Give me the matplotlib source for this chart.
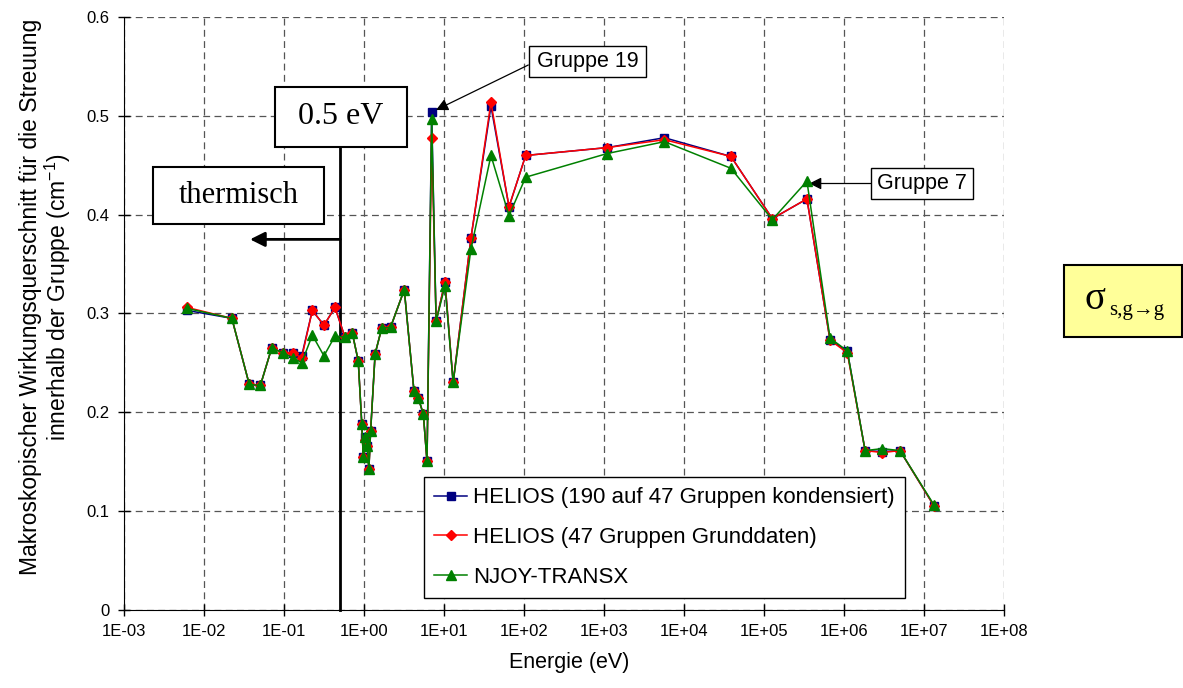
import numpy as np
import matplotlib
matplotlib.use('Agg')
import matplotlib.pyplot as plt
from matplotlib.patches import Rectangle
from matplotlib.ticker import FixedLocator, NullLocator, FuncFormatter

# -----------------------------
# Daten
# -----------------------------
energie = [0.00612, 0.0221, 0.0365, 0.0502, 0.0696, 0.0963, 0.128, 0.165, 0.224, 0.313,
           0.43, 0.573, 0.708, 0.84, 0.93, 0.97, 1.02, 1.09, 1.14, 1.2,
           1.365, 1.65, 2.13, 3.16, 4.18, 4.74, 5.47, 6.08, 6.95, 7.9,
           10.2, 12.9, 21.5, 38.3, 64.4, 104, 1090, 5640, 38300, 1.26e5,
           3.41e5, 6.63e5, 1.09e6, 1.82e6, 2.98e6, 4.97e6, 1.32e7]

helios_190 = [0.303, 0.295, 0.228, 0.227, 0.265, 0.260, 0.260, 0.257, 0.303, 0.288,
              0.306, 0.276, 0.280, 0.252, 0.188, 0.155, 0.175, 0.166, 0.142, 0.181,
              0.259, 0.285, 0.286, 0.324, 0.221, 0.214, 0.198, 0.150, 0.504, 0.292,
              0.332, 0.230, 0.376, 0.510, 0.408, 0.460, 0.468, 0.478, 0.459, 0.396,
              0.416, 0.273, 0.262, 0.161, 0.160, 0.161, 0.105]

helios_47 = [0.306, 0.295, 0.228, 0.227, 0.265, 0.260, 0.260, 0.255, 0.303, 0.288,
             0.306, 0.276, 0.280, 0.252, 0.188, 0.155, 0.172, 0.166, 0.142, 0.181,
             0.259, 0.285, 0.286, 0.324, 0.221, 0.214, 0.198, 0.150, 0.478, 0.292,
             0.332, 0.230, 0.376, 0.514, 0.408, 0.460, 0.468, 0.476, 0.459, 0.396,
             0.416, 0.273, 0.260, 0.161, 0.159, 0.161, 0.105]

njoy = [0.305, 0.295, 0.228, 0.227, 0.265, 0.260, 0.255, 0.250, 0.278, 0.257,
        0.277, 0.276, 0.280, 0.252, 0.188, 0.155, 0.175, 0.166, 0.142, 0.181,
        0.259, 0.285, 0.286, 0.324, 0.221, 0.214, 0.198, 0.150, 0.497, 0.292,
        0.328, 0.230, 0.365, 0.460, 0.399, 0.438, 0.462, 0.474, 0.447, 0.395,
        0.434, 0.275, 0.262, 0.161, 0.163, 0.161, 0.106]

namen = ['HELIOS (190 auf 47 Gruppen kondensiert)',
         'HELIOS (47 Gruppen Grunddaten)',
         'NJOY-TRANSX']

x_ticks = [10.0 ** e for e in range(-3, 9)]
y_ticks = [0, 0.1, 0.2, 0.3, 0.4, 0.5, 0.6]

plt.rcParams['font.family'] = ['Liberation Sans', 'DejaVu Sans']
plt.rcParams['mathtext.fontset'] = 'custom'
plt.rcParams['mathtext.rm'] = 'Liberation Sans'
plt.rcParams['mathtext.it'] = 'Liberation Sans:italic'

W, H = 1183, 688
fig = plt.figure(figsize=(W / 100, H / 100), dpi=100)


def fx(x):
    return x / W


def fy(y):
    return 1 - y / H


# Achsenbereich in Pixeln
x0, x1, y0, y1 = 124.3, 1004.3, 17.3, 609.5
ax = fig.add_axes([fx(x0), fy(y1), (x1 - x0) / W, (y1 - y0) / H])

ax.plot(energie, helios_190, color='#000080', lw=1.1, marker='s', ms=6,
        mfc='#000080', mec='#000080', label=namen[0], zorder=3)
ax.plot(energie, helios_47, color='#FF0000', lw=1.1, marker='D', ms=5.5,
        mfc='#FF0000', mec='#FF0000', label=namen[1], zorder=4)
ax.plot(energie, njoy, color='#008000', lw=1.1, marker='^', ms=7,
        mfc='#008000', mec='#008000', label=namen[2], zorder=5)

ax.set_xscale('log')
ax.set_xlim(1e-3, 1e8)
ax.set_ylim(0, 0.6)
ax.xaxis.set_major_locator(FixedLocator(x_ticks))
ax.xaxis.set_minor_locator(NullLocator())
ax.xaxis.set_major_formatter(FuncFormatter(lambda v, p: '1E%+03d' % int(round(np.log10(v)))))
ax.yaxis.set_major_locator(FixedLocator(y_ticks))
ax.yaxis.set_major_formatter(FuncFormatter(lambda v, p: '0' if v == 0 else '%.1f' % v))
ax.tick_params(direction='inout', length=9, width=1, labelsize=12, pad=6)

ax.grid(True, color='#555555', linestyle=(0, (5.5, 3.5)), linewidth=0.9)
ax.spines['top'].set_visible(False)
ax.spines['right'].set_visible(False)

ax.set_xlabel('Energie (eV)', fontsize=15.5)
ax.set_ylabel('Makroskopischer Wirkungsquerschnitt für die Streuung\n'
              'innerhalb der Gruppe (cm$^{-1}$)', fontsize=16.5, linespacing=1.05)
ax.xaxis.set_label_coords(0.505, -0.072)
ax.yaxis.set_label_coords(-0.058, 0.528)

leg = ax.legend(loc='upper left', bbox_to_anchor=(fx(424), fy(477.3)),
                bbox_transform=fig.transFigure, fontsize=16, frameon=True,
                fancybox=False, edgecolor='black', framealpha=1, borderaxespad=0,
                borderpad=0.45, handlelength=1.5, handletextpad=0.25,
                labelspacing=0.85)
leg.get_frame().set_linewidth(1.0)

# 0.5 eV Linie und Pfeil "thermisch"
ax.plot([0.5, 0.5], [0, (y1 - 147.3) / (y1 - y0) * 0.6], color='black', lw=2,
        zorder=2, clip_on=False)
ax.annotate('', xy=(0.0373, 0.375), xytext=(0.5, 0.375),
            arrowprops=dict(arrowstyle='-|>', lw=2, color='black', mutation_scale=22,
                            shrinkA=0, shrinkB=0))


def kasten(xa, ya, xb, yb, text, lw=1.0, fc='white', **kw):
    fig.patches.append(Rectangle((fx(xa), fy(yb)), (xb - xa) / W, (yb - ya) / H,
                                 transform=fig.transFigure, fc=fc, ec='black', lw=lw,
                                 zorder=10))
    if text:
        fig.text(fx((xa + xb) / 2), fy((ya + yb) / 2), text, ha='center', va='center',
                 zorder=11, **kw)


kasten(275, 86.7, 407.3, 147.3, '0.5 eV', lw=1.5, fontsize=23, family='Liberation Serif')
kasten(153.3, 167.3, 324, 224.3, 'thermisch', lw=1.5, fontsize=22, family='Liberation Serif')
kasten(529.3, 45.7, 645.7, 76.7, 'Gruppe 19', fontsize=15.5)
kasten(870.7, 168.3, 973.3, 199.3, 'Gruppe 7', fontsize=15.5)
kasten(1064, 265, 1181.7, 337.3, '', lw=1.5, fc='#FFFF99')
serif = ['Liberation Serif', 'DejaVu Serif']
fig.text(fx(1084), fy(309), 'σ', ha='left', va='baseline', fontsize=28,
         family=serif, zorder=11)
fig.text(fx(1109), fy(315), 's,g→g', ha='left', va='baseline', fontsize=15,
         family=serif, zorder=11)

pfeil = dict(arrowstyle='-|>', lw=0.9, color='black', mutation_scale=18,
             shrinkA=0, shrinkB=0)
ax.annotate('', xy=(fx(436), fy(110)), xycoords='figure fraction',
            xytext=(fx(528.3), fy(65)), textcoords='figure fraction', arrowprops=pfeil)
ax.annotate('', xy=(fx(809.3), fy(183.5)), xycoords='figure fraction',
            xytext=(fx(870.7), fy(183.5)), textcoords='figure fraction', arrowprops=pfeil)

fig.savefig('out.png', dpi=100)
